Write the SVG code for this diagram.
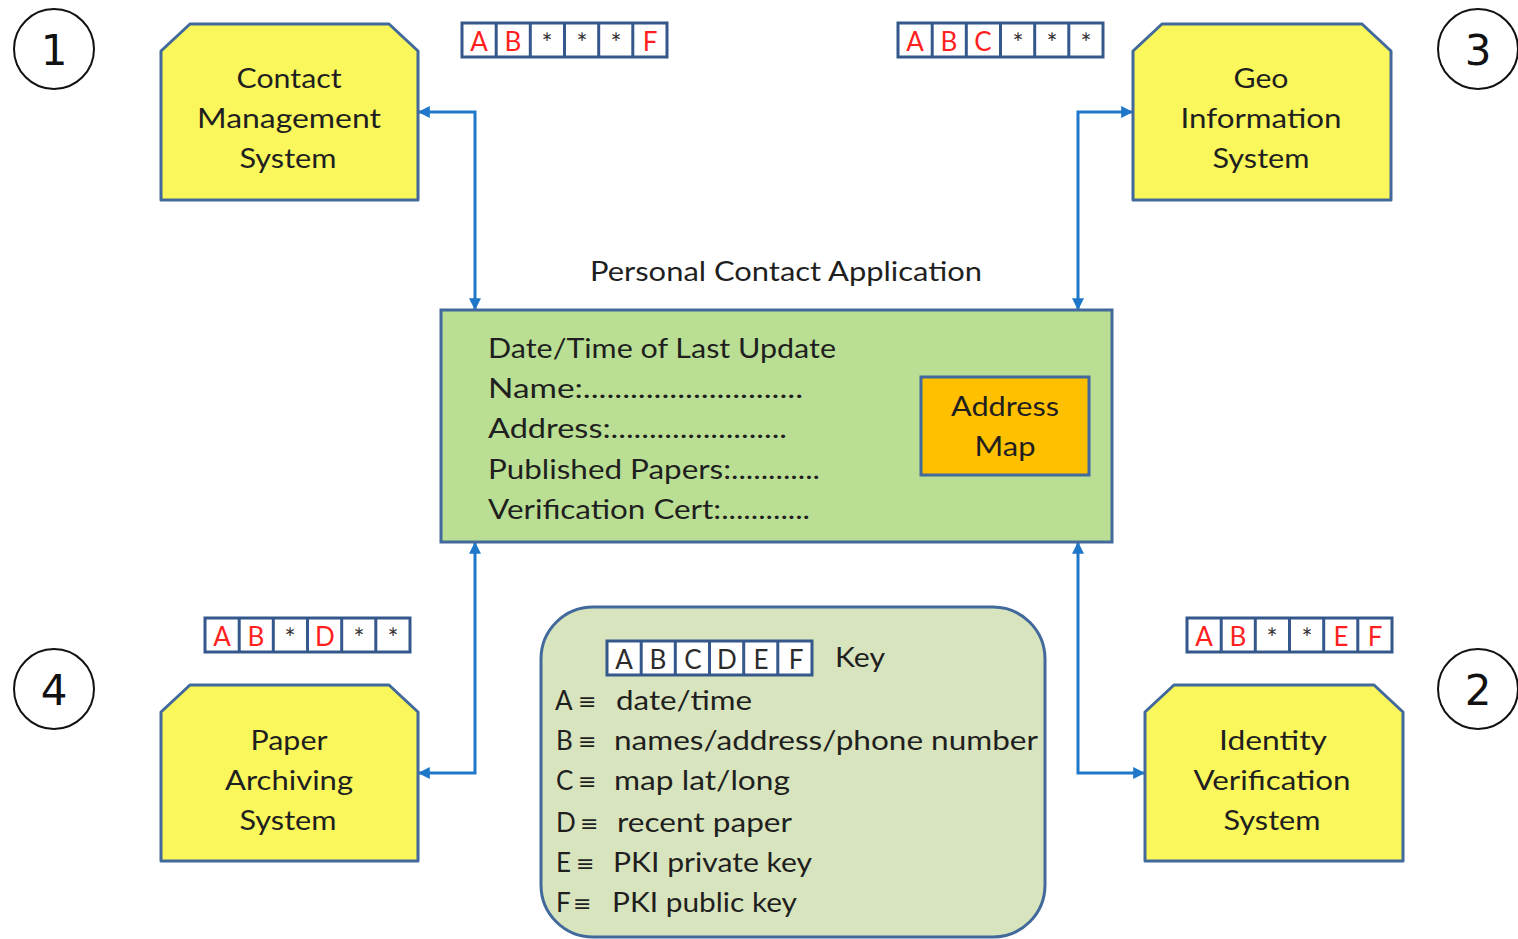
<svg xmlns="http://www.w3.org/2000/svg" xmlns:xlink="http://www.w3.org/1999/xlink" width="1518" height="939" viewBox="0 0 1518 939">
  <style>
    .t { font-family: Lato, "Open Sans", "Liberation Sans", sans-serif; fill: #1F1F1F; }
    .eq { font-family: "DejaVu Sans", sans-serif; font-size: 22px; fill: #1F1F1F; }
    .node { fill: #FAF75C; stroke: #41699B; stroke-width: 3; stroke-linejoin: round; }
    .main { fill: #BADF94; stroke: #41699B; stroke-width: 3; }
    .map { fill: #FFC000; stroke: #41699B; stroke-width: 3; }
    .key { fill: #D8E4BD; stroke: #41699B; stroke-width: 3; }
    .strip-box { fill: #FFFFFF; stroke: #34578C; stroke-width: 3; }
    .strip-div { stroke: #34578C; stroke-width: 3; }
    .cell { font-family: Lato, "Open Sans", "Liberation Sans", sans-serif; font-size: 26px; text-anchor: middle; }
    .red { fill: #FF1F1F; }
    .star { fill: #333333; }
    .dark { fill: #2B2B2B; }
    .num { font-family: "DejaVu Sans", sans-serif; font-size: 42px; text-anchor: middle; fill: #111111; }
    .ring { fill: #FFFFFF; stroke: #111111; stroke-width: 2; }
    .conn { fill: none; stroke: #1F77C9; stroke-width: 3; }
    .mid { text-anchor: middle; }
  </style>
  <defs>
    <marker id="arrow" viewBox="0 0 10 10" refX="9" refY="5" markerWidth="12" markerHeight="12" markerUnits="userSpaceOnUse" orient="auto-start-reverse">
      <path d="M0,0 L10,5 L0,10 Z" fill="#1F77C9"/>
    </marker>
    <!-- six-cell data strip -->
    <g id="strip">
      <rect class="strip-box" x="0" y="0" width="205" height="34"/>
      <line class="strip-div" x1="34.2" y1="0" x2="34.2" y2="34"/>
      <line class="strip-div" x1="68.3" y1="0" x2="68.3" y2="34"/>
      <line class="strip-div" x1="102.5" y1="0" x2="102.5" y2="34"/>
      <line class="strip-div" x1="136.7" y1="0" x2="136.7" y2="34"/>
      <line class="strip-div" x1="170.8" y1="0" x2="170.8" y2="34"/>
    </g>
  </defs>

  <rect width="1518" height="939" fill="#FFFFFF"/>

  <!-- connectors -->
  <g id="connectors">
    <path class="conn" d="M419,112 H475 V309" marker-start="url(#arrow)" marker-end="url(#arrow)"/>
    <path class="conn" d="M1132,112 H1078 V309" marker-start="url(#arrow)" marker-end="url(#arrow)"/>
    <path class="conn" d="M475,543 V773 H419" marker-start="url(#arrow)" marker-end="url(#arrow)"/>
    <path class="conn" d="M1078,543 V773 H1144" marker-start="url(#arrow)" marker-end="url(#arrow)"/>
  </g>

  <!-- numbered markers -->
  <g id="badge-1"><circle class="ring" cx="54" cy="49" r="40"/><text class="num" x="54" y="65">1</text></g>
  <g id="badge-3"><circle class="ring" cx="1478" cy="49" r="40"/><text class="num" x="1478" y="65">3</text></g>
  <g id="badge-4"><circle class="ring" cx="54" cy="689" r="40"/><text class="num" x="54" y="705">4</text></g>
  <g id="badge-2"><circle class="ring" cx="1478" cy="689" r="40"/><text class="num" x="1478" y="705">2</text></g>

  <!-- Contact Management System -->
  <g id="contact-management">
    <path class="node" d="M190,24 H389 L418,51 V200 H161 V51 Z"/>
    <text class="t mid" font-size="26" x="289" y="88" textLength="105" lengthAdjust="spacingAndGlyphs">Contact</text>
    <text class="t mid" font-size="26" x="289" y="128" textLength="184" lengthAdjust="spacingAndGlyphs">Management</text>
    <text class="t mid" font-size="26" x="288" y="168" textLength="97" lengthAdjust="spacingAndGlyphs">System</text>
  </g>

  <!-- Geo Information System -->
  <g id="geo-information">
    <path class="node" d="M1162,24 H1362 L1391,51 V200 H1133 V51 Z"/>
    <text class="t mid" font-size="26" x="1261" y="88" textLength="55" lengthAdjust="spacingAndGlyphs">Geo</text>
    <text class="t mid" font-size="26" x="1261" y="128" textLength="161" lengthAdjust="spacingAndGlyphs">Information</text>
    <text class="t mid" font-size="26" x="1261" y="168" textLength="97" lengthAdjust="spacingAndGlyphs">System</text>
  </g>

  <!-- Paper Archiving System -->
  <g id="paper-archiving">
    <path class="node" d="M190,685 H389 L418,712 V861 H161 V712 Z"/>
    <text class="t mid" font-size="26" x="289" y="750" textLength="77" lengthAdjust="spacingAndGlyphs">Paper</text>
    <text class="t mid" font-size="26" x="289" y="790" textLength="128" lengthAdjust="spacingAndGlyphs">Archiving</text>
    <text class="t mid" font-size="26" x="288" y="830" textLength="97" lengthAdjust="spacingAndGlyphs">System</text>
  </g>

  <!-- Identity Verification System -->
  <g id="identity-verification">
    <path class="node" d="M1174,685 H1374 L1403,712 V861 H1145 V712 Z"/>
    <text class="t mid" font-size="26" x="1273" y="750" textLength="108" lengthAdjust="spacingAndGlyphs">Identity</text>
    <text class="t mid" font-size="26" x="1272" y="790" textLength="157" lengthAdjust="spacingAndGlyphs">Verification</text>
    <text class="t mid" font-size="26" x="1272" y="830" textLength="97" lengthAdjust="spacingAndGlyphs">System</text>
  </g>

  <!-- Personal Contact Application -->
  <g id="personal-contact-app">
    <text class="t" font-size="26" x="590" y="281" textLength="392" lengthAdjust="spacingAndGlyphs">Personal Contact Application</text>
    <rect class="main" x="441" y="310" width="671" height="232"/>
    <text class="t" font-size="26" x="488" y="358" textLength="348" lengthAdjust="spacingAndGlyphs">Date/Time of Last Update</text>
    <text class="t" font-size="26" x="488" y="398" textLength="315" lengthAdjust="spacingAndGlyphs">Name:............................</text>
    <text class="t" font-size="26" x="488" y="438" textLength="299" lengthAdjust="spacingAndGlyphs">Address:.......................</text>
    <text class="t" font-size="26" x="488" y="479" textLength="332" lengthAdjust="spacingAndGlyphs">Published Papers:............</text>
    <text class="t" font-size="26" x="488" y="519" textLength="322" lengthAdjust="spacingAndGlyphs">Verification Cert:............</text>
  </g>

  <!-- Address Map -->
  <g id="address-map">
    <rect class="map" x="921" y="377" width="168" height="98"/>
    <text class="t mid" font-size="26" x="1005" y="416" textLength="108" lengthAdjust="spacingAndGlyphs">Address</text>
    <text class="t mid" font-size="26" x="1005" y="456" textLength="61" lengthAdjust="spacingAndGlyphs">Map</text>
  </g>

  <!-- data strips -->
  <g id="strip-contact">
    <use xlink:href="#strip" x="462" y="23"/>
    <text class="cell red" x="479" y="51">A</text>
    <text class="cell red" x="513" y="51">B</text>
    <text class="cell star" x="547" y="53">*</text>
    <text class="cell star" x="582" y="53">*</text>
    <text class="cell star" x="616" y="53">*</text>
    <text class="cell red" x="650" y="51">F</text>
  </g>
  <g id="strip-geo">
    <use xlink:href="#strip" x="898" y="23"/>
    <text class="cell red" x="915" y="51">A</text>
    <text class="cell red" x="949" y="51">B</text>
    <text class="cell red" x="983" y="51">C</text>
    <text class="cell star" x="1018" y="53">*</text>
    <text class="cell star" x="1052" y="53">*</text>
    <text class="cell star" x="1086" y="53">*</text>
  </g>
  <g id="strip-paper">
    <use xlink:href="#strip" x="205" y="618"/>
    <text class="cell red" x="222" y="646">A</text>
    <text class="cell red" x="256" y="646">B</text>
    <text class="cell star" x="290" y="648">*</text>
    <text class="cell red" x="325" y="646">D</text>
    <text class="cell star" x="359" y="648">*</text>
    <text class="cell star" x="393" y="648">*</text>
  </g>
  <g id="strip-identity">
    <use xlink:href="#strip" x="1187" y="618"/>
    <text class="cell red" x="1204" y="646">A</text>
    <text class="cell red" x="1238" y="646">B</text>
    <text class="cell star" x="1272" y="648">*</text>
    <text class="cell star" x="1307" y="648">*</text>
    <text class="cell red" x="1341" y="646">E</text>
    <text class="cell red" x="1375" y="646">F</text>
  </g>

  <!-- Key -->
  <g id="key">
    <rect class="key" x="541" y="607" width="504" height="330" rx="52" ry="52"/>
    <use xlink:href="#strip" x="607" y="641"/>
    <text class="cell dark" x="624" y="669">A</text>
    <text class="cell dark" x="658" y="669">B</text>
    <text class="cell dark" x="693" y="669">C</text>
    <text class="cell dark" x="727" y="669">D</text>
    <text class="cell dark" x="761" y="669">E</text>
    <text class="cell dark" x="796" y="669">F</text>
    <text class="t" font-size="26" x="835" y="667" textLength="50" lengthAdjust="spacingAndGlyphs">Key</text>

    <text class="t" font-size="26" x="555" y="710">A</text>
    <text class="eq" x="578" y="709">≡</text>
    <text class="t" font-size="26" x="616" y="710" textLength="136" lengthAdjust="spacingAndGlyphs">date/time</text>

    <text class="t" font-size="26" x="556" y="750">B</text>
    <text class="eq" x="578" y="749">≡</text>
    <text class="t" font-size="26" x="614" y="750" textLength="424" lengthAdjust="spacingAndGlyphs">names/address/phone number</text>

    <text class="t" font-size="26" x="556" y="790">C</text>
    <text class="eq" x="578" y="789">≡</text>
    <text class="t" font-size="26" x="614" y="790" textLength="176" lengthAdjust="spacingAndGlyphs">map lat/long</text>

    <text class="t" font-size="26" x="556" y="832">D</text>
    <text class="eq" x="580" y="831">≡</text>
    <text class="t" font-size="26" x="617" y="832" textLength="175" lengthAdjust="spacingAndGlyphs">recent paper</text>

    <text class="t" font-size="26" x="556" y="872">E</text>
    <text class="eq" x="576" y="871">≡</text>
    <text class="t" font-size="26" x="613" y="872" textLength="199" lengthAdjust="spacingAndGlyphs">PKI private key</text>

    <text class="t" font-size="26" x="556" y="912">F</text>
    <text class="eq" x="573" y="911">≡</text>
    <text class="t" font-size="26" x="612" y="912" textLength="185" lengthAdjust="spacingAndGlyphs">PKI public key</text>
  </g>
</svg>
